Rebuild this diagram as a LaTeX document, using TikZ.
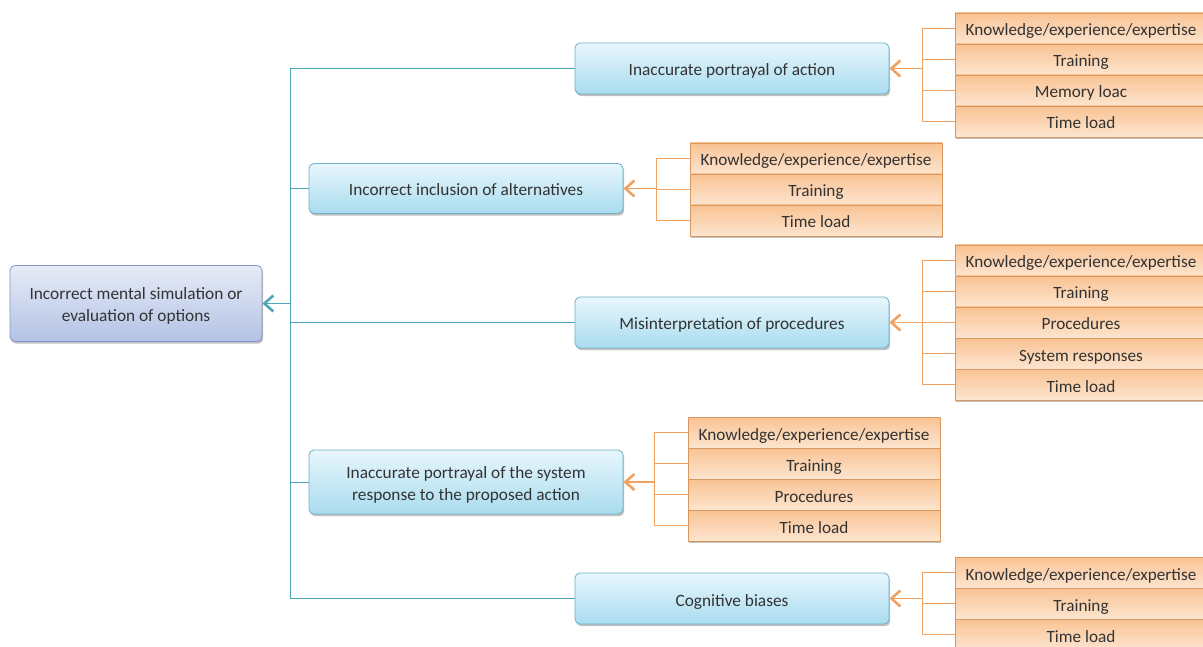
\documentclass[tikz,border=0pt]{standalone}
\usepackage{fontspec}
\setmainfont{Carlito}
\usetikzlibrary{arrows.meta,shadows}
\definecolor{txt}{HTML}{333333}
\definecolor{tealln}{HTML}{4FA6B8}
\definecolor{orgln}{HTML}{F0A262}
\definecolor{bluetop}{HTML}{E8F6FC}
\definecolor{bluebot}{HTML}{A9DCEF}
\definecolor{blueedge}{HTML}{6FB0C8}
\definecolor{roottop}{HTML}{E6EBF7}
\definecolor{rootbot}{HTML}{B3C2E4}
\definecolor{rootedge}{HTML}{8396C6}
\definecolor{orgtop}{HTML}{F9C393}
\definecolor{orgbot}{HTML}{FDE5D0}
\definecolor{orgedge}{HTML}{D9985F}
\tikzset{
  boxshadow/.style={drop shadow={shadow xshift=1.2pt,shadow yshift=-2.2pt,opacity=0.35,fill=black!70}},
  rootbox/.style={draw=rootedge,line width=0.8pt,rounded corners=5pt,top color=roottop,bottom color=rootbot,
    minimum width=252pt,minimum height=76pt,align=center,text=txt,font=\fontsize{17.3}{21}\selectfont,boxshadow,
    text height=35pt,text depth=0pt},
  midbox/.style={draw=blueedge,line width=0.8pt,rounded corners=5pt,top color=bluetop,bottom color=bluebot,
    minimum width=314pt,align=center,text=txt,font=\fontsize{17.3}{22}\selectfont,boxshadow},
  oneline/.style={text height=15pt,text depth=0pt},
  twoline/.style={text height=36pt,text depth=0pt},
  rowbox/.style={draw=orgedge,line width=0.6pt,top color=orgtop,bottom color=orgbot,
    minimum height=31pt,inner sep=0pt,text=txt,font=\fontsize{17.2}{20}\selectfont,boxshadow,
    text height=15pt,text depth=0pt},
  rowR/.style={rowbox,minimum width=252pt},
  rowL/.style={rowbox,minimum width=252pt},
  tline/.style={draw=tealln,line width=0.9pt},
  oline/.style={draw=orgln,line width=0.8pt},
  tarrow/.style={draw=tealln,line width=1pt,-{Straight Barb[length=9pt,width=16pt,line width=2.6pt]}},
  oarrow/.style={draw=orgln,line width=1.3pt,-{Straight Barb[length=9pt,width=16pt,line width=2.6pt]}},
}
\begin{document}
\begin{tikzpicture}[x=1pt,y=-1pt]
\clip (0,0) rectangle (1203,647);
\fill[white] (0,0) rectangle (1203,647);

% root
\node[rootbox] (root) at (136,303.5) {Incorrect mental simulation or\\evaluation of options};

% middle boxes
\node[midbox,oneline,minimum height=51pt] (m1) at (732,68.5) {Inaccurate portrayal of action};
\node[midbox,oneline,minimum height=50pt] (m2) at (466,188.5) {Incorrect inclusion of alternatives};
\node[midbox,oneline,minimum height=51pt] (m3) at (732,322.5) {Misinterpretation of procedures};
\node[midbox,twoline,minimum height=64pt] (m4) at (466,482) {Inaccurate portrayal of the system\\response to the proposed action};
\node[midbox,oneline,minimum height=51pt] (m5) at (732,598.5) {Cognitive biases};

% group 1
\node[rowR] (a1) at (1081,28.5) {Knowledge/experience/expertise};
\node[rowR] (a2) at (1081,59.5) {Training};
\node[rowR] (a3) at (1081,90.5) {Memory loac};
\node[rowR] (a4) at (1081,121.5) {Time load};
% group 2
\node[rowL] (b1) at (816,158.5) {Knowledge/experience/expertise};
\node[rowL] (b2) at (816,189.5) {Training};
\node[rowL] (b3) at (816,220.5) {Time load};
% group 3
\node[rowR] (c1) at (1081,260.5) {Knowledge/experience/expertise};
\node[rowR] (c2) at (1081,291.5) {Training};
\node[rowR] (c3) at (1081,322.5) {Procedures};
\node[rowR] (c4) at (1081,353.5) {System responses};
\node[rowR] (c5) at (1081,384.5) {Time load};
% group 4
\node[rowL] (d1) at (814,432.5) {Knowledge/experience/expertise};
\node[rowL] (d2) at (814,463.5) {Training};
\node[rowL] (d3) at (814,494.5) {Procedures};
\node[rowL] (d4) at (814,525.5) {Time load};
% group 5
\node[rowR] (e1) at (1081,572.5) {Knowledge/experience/expertise};
\node[rowR] (e2) at (1081,603.5) {Training};
\node[rowR] (e3) at (1081,634.5) {Time load};

% teal trunk
\coordinate (t1) at (290,68.5);
\coordinate (t2) at (290,188.5);
\coordinate (tr) at (290,303.5);
\coordinate (t3) at (290,322.5);
\coordinate (t4) at (290,482);
\coordinate (t5) at (290,598.5);
\draw[tline] (m1.west) -- (t1) -- (t5) -- (m5.west);
\draw[tline] (t2) -- (m2.west);
\draw[tline] (t3) -- (m3.west);
\draw[tline] (t4) -- (m4.west);
\draw[tarrow] (tr) -- (root.east);

% orange brackets
\coordinate (ja) at (923,68.5);
\draw[oline] (a1.west) -- ++(-32,0) |- (a4.west);
\draw[oline] (a2.west) -- ++(-32,0);
\draw[oline] (a3.west) -- ++(-32,0);
\draw[oarrow] (ja) -- (m1.east);

\coordinate (jb) at (657,188.5);
\draw[oline] (b1.west) -- ++(-33,0) |- (b3.west);
\draw[oline] (b2.west) -- ++(-33,0);
\draw[oarrow] (jb) -- (m2.east);

\coordinate (jc) at (923,322.5);
\draw[oline] (c1.west) -- ++(-32,0) |- (c5.west);
\draw[oline] (c2.west) -- ++(-32,0);
\draw[oline] (c3.west) -- ++(-32,0);
\draw[oline] (c4.west) -- ++(-32,0);
\draw[oarrow] (jc) -- (m3.east);

\coordinate (jd) at (655,482);
\draw[oline] (d1.west) -- ++(-33,0) |- (d4.west);
\draw[oline] (d2.west) -- ++(-33,0);
\draw[oline] (d3.west) -- ++(-33,0);
\draw[oarrow] (jd) -- (m4.east);

\coordinate (je) at (923,598.5);
\draw[oline] (e1.west) -- ++(-32,0) |- (e3.west);
\draw[oline] (e2.west) -- ++(-32,0);
\draw[oarrow] (je) -- (m5.east);
\end{tikzpicture}
\end{document}
